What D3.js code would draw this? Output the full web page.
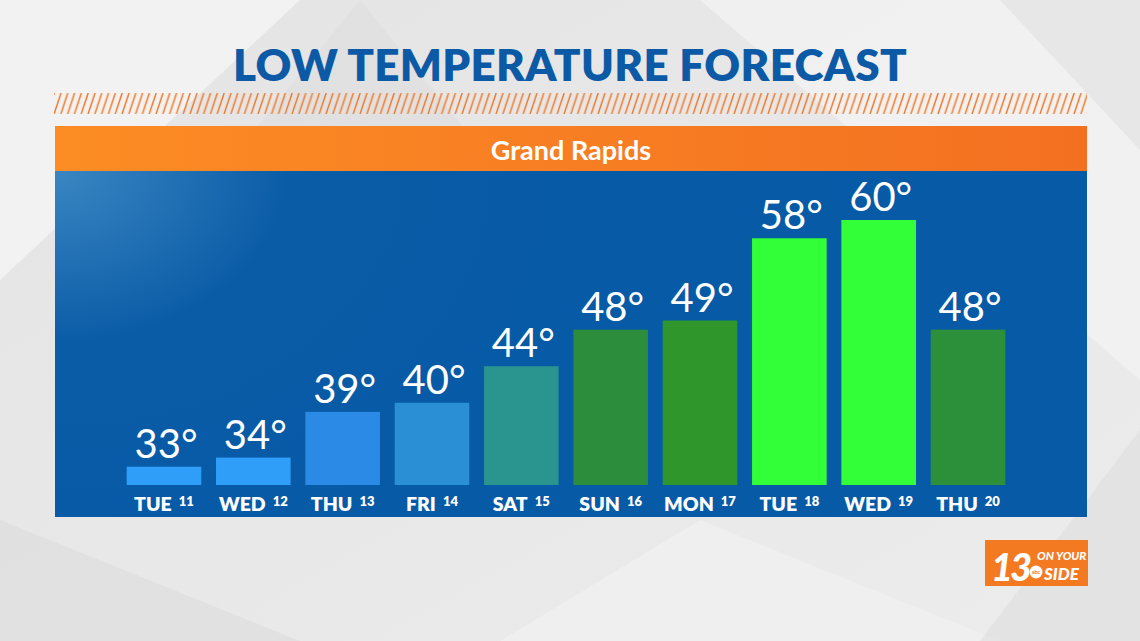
<!DOCTYPE html>
<html><head><meta charset="utf-8">
<script src="https://cdn.jsdelivr.net/npm/d3@7"></script>
<style>html,body{margin:0;padding:0;overflow:hidden;background:#e9e9e9;}</style>
</head><body><svg id="c" width="1140" height="641"></svg>
<script>
const days = ["TUE","WED","THU","FRI","SAT","SUN","MON","TUE","WED","THU"];
const dates = ["11","12","13","14","15","16","17","18","19","20"];
const lows = [33,34,39,40,44,48,49,58,60,48];
const barColors = ["#2f9ef9","#2f9ef9","#2a8ae6","#2b8fd6","#2a948f","#2c8d3c","#2f962c","#33ff38","#33ff38","#2c8f3a"];
const titleText = "LOW TEMPERATURE FORECAST";
const cityName = "Grand Rapids";

const svg = d3.select("#c");
const defs = svg.append("defs");

// background
const bg = defs.append("linearGradient").attr("id","bg").attr("x1",0).attr("y1",0).attr("x2",1).attr("y2",1);
bg.append("stop").attr("offset","0%").attr("stop-color","#e4e4e4");
bg.append("stop").attr("offset","100%").attr("stop-color","#ececec");
svg.append("rect").attr("width",1140).attr("height",641).attr("fill","url(#bg)");
const shapes = [
  {pts:[[0,0],[300,0],[0,280]], c:"#f2f2f2"},
  {pts:[[360,0],[620,320],[100,320]], c:"#dedede", o:0.6},
  {pts:[[700,0],[1140,0],[1140,380]], c:"#f3f3f3", o:0.8},
  {pts:[[1000,0],[1140,0],[1140,150]], c:"#e2e2e2", o:0.7},
  {pts:[[0,520],[300,641],[0,641]], c:"#dcdcdc", o:0.6},
  {pts:[[700,520],[1000,641],[500,641]], c:"#f1f1f1", o:0.7},
  {pts:[[1140,430],[1140,641],[980,641]], c:"#dddddd", o:0.6}
];
svg.selectAll("polygon.bgs").data(shapes).join("polygon").attr("class","bgs")
  .attr("points",d=>d.pts.map(p=>p.join(",")).join(" "))
  .attr("fill",d=>d.c).attr("opacity",d=>d.o||1);

// title
svg.append("text").attr("x",570).attr("y",81).attr("text-anchor","middle")
  .attr("font-family","Lato, 'Open Sans', sans-serif").attr("font-weight",800)
  .attr("font-size",44).attr("fill","#0c5aa6").attr("letter-spacing",0.3).text(titleText);

// hatch band
const pat = defs.append("pattern").attr("id","hatch").attr("patternUnits","userSpaceOnUse")
  .attr("width",6.8).attr("height",21).attr("x",54).attr("y",93);
[-6.8,0,6.8].forEach(o=>{
  pat.append("line").attr("x1",o).attr("y1",21).attr("x2",o+7).attr("y2",0)
    .attr("stroke","#f47a2a").attr("stroke-width",1.5);
});
svg.append("rect").attr("x",54).attr("y",93).attr("width",1033).attr("height",21).attr("fill","url(#hatch)");

// panel
const panelX = 55, panelW = 1032;
const og = defs.append("linearGradient").attr("id","og");
og.append("stop").attr("offset","0%").attr("stop-color","#fc8c24");
og.append("stop").attr("offset","100%").attr("stop-color","#f37021");
svg.append("rect").attr("x",panelX).attr("y",126).attr("width",panelW).attr("height",45).attr("fill","url(#og)");
svg.append("text").attr("x",571).attr("y",160).attr("text-anchor","middle")
  .attr("font-family","Lato, 'Open Sans', sans-serif").attr("font-weight",700)
  .attr("font-size",27).attr("fill","#ffffff").text(cityName);

const bl = defs.append("radialGradient").attr("id","bl").attr("cx","0").attr("cy","0").attr("r","0.5")
  .attr("gradientTransform","scale(1,2.2)");
bl.append("stop").attr("offset","0%").attr("stop-color","#3a86c2");
bl.append("stop").attr("offset","45%").attr("stop-color","#0b5ca7");
bl.append("stop").attr("offset","100%").attr("stop-color","#075aa6");
svg.append("rect").attr("x",panelX).attr("y",171).attr("width",panelW).attr("height",346).attr("fill","url(#bl)");

// scales
const x = d3.scaleBand().domain(d3.range(lows.length)).range([124,1008]).paddingInner(0.165).paddingOuter(0.03);
const y = d3.scaleLinear().domain([31,60]).range([485,220]);

const g = svg.append("g");
g.selectAll("rect.bar").data(lows).join("rect").attr("class","bar")
  .attr("x",(d,i)=>x(i)).attr("width",x.bandwidth())
  .attr("y",d=>y(d)).attr("height",d=>y(31)-y(d))
  .attr("fill",(d,i)=>barColors[i]);

g.selectAll("text.val").data(lows).join("text").attr("class","val")
  .attr("x",(d,i)=>x(i)+x.bandwidth()/2+2).attr("y",d=>y(d)-9)
  .attr("text-anchor","middle").attr("font-family","Lato, 'Open Sans', sans-serif")
  .attr("font-weight",400).attr("font-size",40).attr("fill","#ffffff")
  .text(d=>d+"°");

const lab = g.selectAll("text.day").data(days).join("text").attr("class","day")
  .attr("x",(d,i)=>x(i)+x.bandwidth()/2).attr("y",511)
  .attr("text-anchor","middle").attr("font-family","Lato, 'Open Sans', sans-serif")
  .attr("font-weight",800).attr("font-size",19.5).attr("fill","#ffffff");
lab.append("tspan").text(d=>d);
lab.append("tspan").attr("dx",7).attr("dy",-5).attr("font-size",13).text((d,i)=>dates[i]);

// logo
const lg = svg.append("g");
lg.append("rect").attr("x",985).attr("y",540).attr("width",103).attr("height",46).attr("fill","#f47a22");
lg.append("text").attr("x",991).attr("y",581).attr("font-family","Lato, sans-serif").attr("font-weight",900)
  .attr("font-style","italic").attr("font-size",38).attr("fill","#fff").attr("letter-spacing",-3).text("13");
lg.append("circle").attr("cx",1036).attr("cy",572).attr("r",6.5).attr("fill","#fff");
lg.append("text").attr("x",1036).attr("y",574).attr("text-anchor","middle").attr("font-family","Lato, sans-serif")
  .attr("font-weight",700).attr("font-size",5.5).attr("fill","#f47a22").text("abc");
lg.append("text").attr("x",1037).attr("y",560).attr("font-family","Lato, sans-serif").attr("font-weight",900)
  .attr("font-style","italic").attr("font-size",11.5).attr("fill","#fff").text("ON YOUR");
lg.append("text").attr("x",1044).attr("y",580).attr("font-family","Lato, sans-serif").attr("font-weight",900)
  .attr("font-style","italic").attr("font-size",17).attr("fill","#fff").text("SIDE");
</script></body></html>
